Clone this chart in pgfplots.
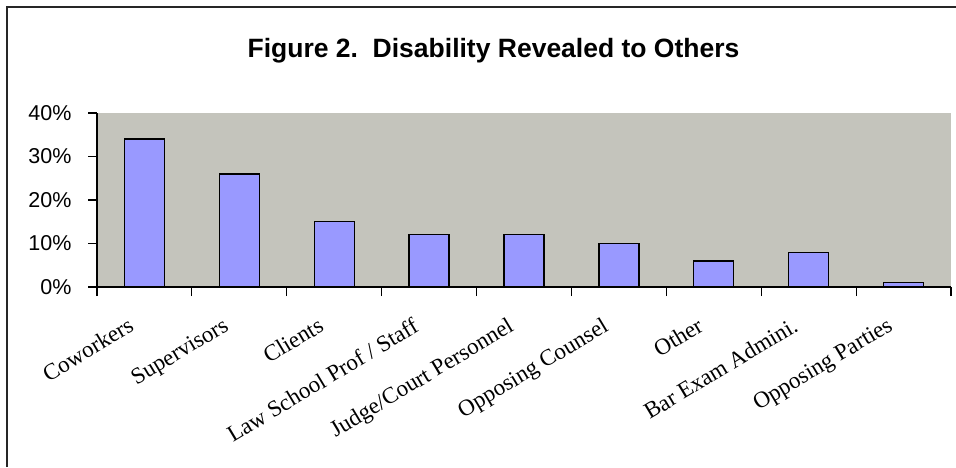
\documentclass[border=0pt]{standalone}
\usepackage{fontspec}
\setmainfont{Liberation Serif}
\newfontfamily\arialfont{Liberation Sans}
\usepackage{pgfplots}
\pgfplotsset{compat=1.18}
\definecolor{plotbg}{RGB}{196,196,188}
\definecolor{barfill}{RGB}{153,153,255}
\begin{document}
\begin{tikzpicture}[x=1pt,y=1pt]
\useasboundingbox (0,0) rectangle (956,467);
\begin{axis}[
  at={(97pt,180pt)}, anchor=south west,
  scale only axis, width=854pt, height=174pt,
  xmin=0.5, xmax=9.5, ymin=0, ymax=40,
  axis x line*=bottom, axis y line*=left,
  axis line style={black, line width=1.2pt, -},
  axis background/.style={fill=plotbg},
  ytick={0,10,20,30,40},
  yticklabels={0\%,10\%,20\%,30\%,40\%},
  yticklabel style={font=\arialfont\fontsize{21.5}{23}\selectfont, anchor=east, xshift=-13pt},
  xtick={1,...,9},
  xticklabels={Coworkers,Supervisors,Clients,Law School Prof / Staff,Judge/Court Personnel,Opposing Counsel,Other,Bar Exam Admini.,Opposing Parties},
  xticklabel style={font=\fontsize{23}{24}\selectfont, rotate=31, anchor=north east, yshift=-5pt, xshift=-22pt},
  major x tick style={draw=none},
  minor xtick={0.5,1.5,...,9.5},
  minor tick length=9pt,
  minor x tick style={black, line width=1.2pt},
  major tick length=9pt,
  major y tick style={black, line width=1.2pt},
  tick align=outside,
  ybar, bar width=40pt,
  clip=false,
]
\addplot[fill=barfill, draw=black, line width=1.3pt] coordinates {
  (1,34) (2,26) (3,15) (4,12) (5,12) (6,10) (7,6) (8,8) (9,1)
};
\end{axis}
\node[anchor=base, font=\arialfont\bfseries\fontsize{26.5}{30}\selectfont] at (493.5,409) {Figure 2.\ \ Disability Revealed to Others};
\draw[line width=1.5pt, black!85] (7,0) -- (7,460) -- (956,460);
\end{tikzpicture}
\end{document}
